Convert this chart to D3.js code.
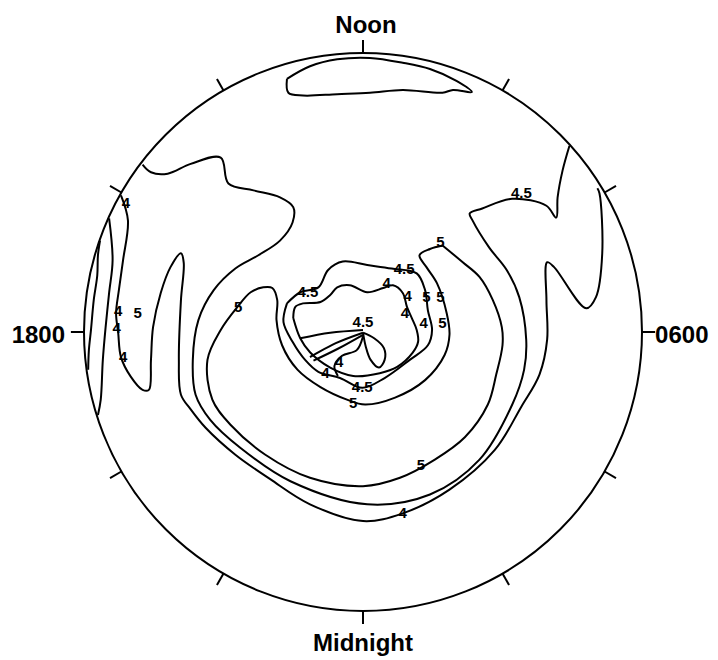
<!DOCTYPE html>
<html><head><meta charset="utf-8">
<script src="https://cdn.jsdelivr.net/npm/d3@7/dist/d3.min.js"></script>
<style>body{margin:0;background:#fff}svg{display:block}</style>
</head><body><svg id="c" width="718" height="660"></svg>
<script>
// Polar plot: x/y in degrees of colatitude from the pole (noon up, 1800 left)
const maxColat = 40;
const hourTicks = [0, 2, 4, 6, 8, 10, 12, 14, 16, 18, 20, 22];
const hourLabels = [
  {h: 12, text: "Noon"}, {h: 18, text: "1800"}, {h: 6, text: "0600"}, {h: 0, text: "Midnight"}
];

// contour lines [x, y]
const noonLoop = [[-10.9,36.3],[-10.7,34.3],[-8.6,33.9],[-3.7,34.1],[1.0,34.3],[5.7,34.7],[11.4,34.3],[12.9,34.7],[15.6,34.4],[13.4,36.0],[9.6,37.7],[5.7,38.6],[1.0,39.3],[-3.7,39.1],[-7.6,38.1],[-10.9,36.3]];
const edgeLine1 = [[-37.7,13.1],[-38.0,11.0],[-38.1,8.1],[-38.6,4.6],[-39.0,0.3],[-39.3,-2.6],[-39.4,-5.4]];
const edgeLine2 = [[-36.4,16.3],[-35.9,10.3],[-36.4,5.6],[-36.9,0.7],[-37.3,-4.0],[-37.6,-9.7],[-38.0,-11.9]];
const contour4 = [[-34.7,19.6],[-33.7,16.0],[-34.4,10.3],[-35.0,6.0],[-35.4,2.7],[-35.1,-0.1],[-34.7,-3.6],[-33.3,-6.4],[-31.6,-8.3],[-30.7,-8.3],[-30.4,-4.0],[-30.1,0.7],[-29.0,5.6],[-27.6,9.3],[-26.1,11.3],[-25.7,9.9],[-26.1,4.6],[-26.4,-4.0],[-26.1,-9.0],[-24.7,-11.1],[-22.6,-13.7],[-18.3,-17.6],[-13.3,-21.1],[-7.6,-24.7],[0,-27.1],[5.7,-26.0],[12.4,-22.6],[18.9,-16.9],[22.7,-10.7],[25.3,-6.1],[26.4,-1.1],[26.3,4.6],[26.4,10.0],[27.4,9.3],[32.0,3.4],[33.4,5.0],[34.3,11.3],[33.9,19.9],[33.6,20.6]];
const contour45 = [[-31.6,24.0],[-30.4,22.9],[-28.0,22.7],[-24.7,24.1],[-20.4,25.0],[-19.3,21.3],[-15.7,20.3],[-11.9,19.3],[-10.0,17.9],[-10.1,15.7],[-11.9,13.1],[-15.0,11.0],[-18.3,9.1],[-21.4,6.0],[-23.6,1.7],[-24.4,-4.0],[-24.0,-9.0],[-21.9,-12.6],[-17.6,-16.6],[-10.4,-21.4],[0.6,-24.7],[9.6,-23.3],[16.7,-18.3],[21.4,-10.4],[23.1,-5.4],[23.4,-1.1],[22.4,5.0],[20.6,8.9],[18.1,12.1],[15.7,16.0],[15.3,17.0],[17.1,17.7],[21.4,19.1],[26.3,18.1],[27.7,16.4],[27.9,19.3],[28.6,23.1],[29.6,26.7]];
const contour5 = [[11.4,12.4],[14.3,10.0],[16.7,7.9],[18.6,4.6],[19.9,0.7],[20.0,-1.9],[19.1,-6.1],[17.9,-10.4],[14.6,-15.1],[10.3,-18.3],[5.3,-20.9],[0,-22.1],[-7.6,-20.9],[-14.0,-17.6],[-19.0,-13.3],[-21.6,-9.7],[-22.3,-4.0],[-20.4,0.3],[-18.0,3.6],[-16.1,5.7],[-14.3,6.4],[-13.0,6.3],[-12.3,4.6],[-12.4,1.7],[-11.6,-1.9],[-9.4,-5.4],[-6.1,-7.9],[-2.3,-9.7],[0.3,-10.4],[4.6,-9.4],[8.9,-6.9],[11.7,-3.3],[12.4,-0.4],[12.0,2.7],[10.6,7.0],[9.1,9.3],[8.1,11.0],[9.6,11.9],[11.4,12.4]];
const ring45 = [[-10.9,4.1],[-9.0,5.7],[-6.4,6.4],[-5.0,8.9],[-2.9,10.1],[0.6,9.6],[4.1,9.1],[7.7,8.4],[8.9,6.0],[9.3,3.1],[9.9,0.3],[9.3,-1.9],[6.7,-4.0],[3.1,-6.6],[-0.1,-8.0],[-3.3,-6.6],[-6.4,-5.7],[-8.3,-4.0],[-10.1,-1.4],[-11.4,1.4],[-10.9,4.1]];
const ring4 = [[-10.0,2.0],[-9.7,3.6],[-8.6,4.1],[-6.1,4.3],[-4.7,5.3],[-3.7,6.4],[-1.9,6.7],[0.6,5.7],[2.9,6.3],[4.3,6.7],[5.7,5.6],[6.3,3.6],[7.0,2.0],[7.7,0.3],[7.9,-1.4],[7.1,-3.0],[4.9,-5.0],[2.4,-5.9],[-1.4,-6.3],[-4.7,-5.1],[-7.6,-2.9],[-9.0,-0.9],[-10.0,2.0]];
const innerA = [[-9.0,-0.9],[-4.7,-0.1],[0,0.3]];
const innerB = [[0,-0.1],[-3.9,-1.6],[-7.6,-3.6]];
const innerB2 = [[0,-0.4],[-3.6,-2.4],[-7.1,-4.1]];
const innerD = [[0,-0.6],[-0.9,-2.6],[-3.0,-3.4],[-4.1,-4.9],[-3.6,-6.3]];
const teardrop = [[0,-0.1],[1.6,-0.9],[3.0,-2.3],[3.1,-4.0],[2.3,-5.1],[1.1,-4.0],[0.4,-2.1],[0,-0.1]];
const contourLines = [noonLoop, edgeLine1, edgeLine2, contour4, contour45, contour5, ring45, ring4, innerA, innerB, innerB2, innerD, teardrop];

// contour labels [x, y, text]
const contourLabels = [
  [-34.0,18.6,"4"],[-35.1,3.0,"4"],[-35.3,0.6,"4"],[-32.3,2.7,"5"],[-34.4,-3.6,"4"],
  [-17.9,3.6,"5"],[5.7,-25.9,"4"],[8.3,-19.0,"5"],[22.7,20.0,"4.5"],[11.1,12.9,"5"],
  [-7.9,5.7,"4.5"],[5.9,9.1,"4.5"],[3.4,7.0,"4"],[6.4,5.2,"4"],[9.1,5.0,"5"],[11.1,5.0,"5"],
  [6.0,2.7,"4"],[8.7,1.3,"4"],[11.4,1.3,"5"],[0,1.4,"4.5"],[-3.4,-4.3,"4"],[-5.4,-5.9,"4"],
  [-0.1,-7.9,"4.5"],[-1.4,-10.1,"5"]
];

const cx = 363, cy = 332, R = 279;
const x = d3.scaleLinear().domain([-maxColat, maxColat]).range([cx - R, cx + R]);
const y = d3.scaleLinear().domain([-maxColat, maxColat]).range([cy + R, cy - R]);
const dirX = h => -Math.sin((h - 12) / 24 * 2 * Math.PI);
const dirY = h => Math.cos((h - 12) / 24 * 2 * Math.PI);

const svg = d3.select("#c");
svg.append("rect").attr("width", 718).attr("height", 660).attr("fill", "#fff");

svg.append("circle").attr("cx", x(0)).attr("cy", y(0)).attr("r", x(maxColat) - x(0))
  .attr("fill", "none").attr("stroke", "#000").attr("stroke-width", 2);

const tickOut = maxColat * 1.047;
svg.append("g").selectAll("line").data(hourTicks).join("line")
  .attr("x1", h => x(maxColat * dirX(h))).attr("y1", h => y(maxColat * dirY(h)))
  .attr("x2", h => x(tickOut * dirX(h))).attr("y2", h => y(tickOut * dirY(h)))
  .attr("stroke", "#000").attr("stroke-width", 2);

const labelR = {12: 1.072, 0: 1.143, 18: 1.068, 6: 1.047};
svg.append("g").selectAll("text").data(hourLabels).join("text")
  .attr("x", d => x(maxColat * labelR[d.h] * dirX(d.h)) + (d.h === 12 ? 3 : 0))
  .attr("y", d => y(maxColat * labelR[d.h] * dirY(d.h)) + (d.h === 18 || d.h === 6 ? 3 : 0))
  .attr("text-anchor", d => d.h === 18 ? "end" : d.h === 6 ? "start" : "middle")
  .attr("dy", d => d.h === 18 || d.h === 6 ? "0.35em" : "0")
  .attr("font-family", "Liberation Sans, Arial, sans-serif").attr("font-weight", "bold")
  .attr("font-size", 24).text(d => d.text);

const line = d3.line().x(d => x(d[0])).y(d => y(d[1])).curve(d3.curveCatmullRom.alpha(0.5));
svg.append("g").selectAll("path").data(contourLines).join("path")
  .attr("d", line).attr("fill", "none").attr("stroke", "#000").attr("stroke-width", 2)
  .attr("stroke-linejoin", "round");

svg.append("g").selectAll("text").data(contourLabels).join("text")
  .attr("x", d => x(d[0])).attr("y", d => y(d[1])).attr("text-anchor", "middle").attr("dy", "0.35em")
  .attr("font-family", "Liberation Sans, Arial, sans-serif").attr("font-weight", "bold")
  .attr("font-size", 15).text(d => d[2]);
</script></body></html>
